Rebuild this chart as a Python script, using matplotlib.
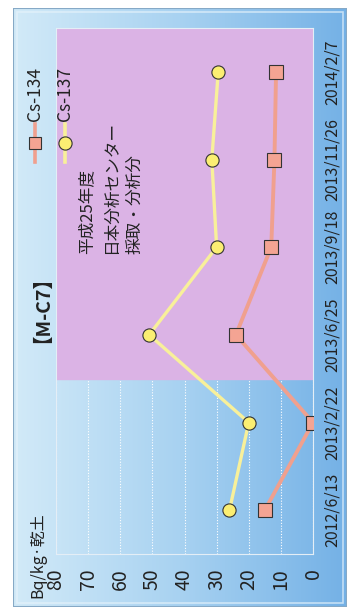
import numpy as np
import matplotlib
matplotlib.use('Agg')
import matplotlib.pyplot as plt
from matplotlib.colors import LinearSegmentedColormap
from matplotlib.lines import Line2D
from matplotlib.patches import Rectangle

plt.rcParams['font.family'] = ['Noto Sans CJK JP', 'DejaVu Sans']

# data (chart is drawn rotated 90 degrees, as in the scanned original)
dates = ['2012/6/13', '2013/2/22', '2013/6/25', '2013/9/18', '2013/11/26', '2014/2/7']
cs134 = [15, 0, 24, 13, 12, 11.5]
cs137 = [26, 20, 51, 30, 31.5, 29.5]
value_ticks = [0, 10, 20, 30, 40, 50, 60, 70, 80]
fy25_start = 2  # first sample of FY H25 (pink band)

W, H = 355, 610
fig = plt.figure(figsize=(W / 100, H / 100), dpi=100)

# blue framed background with gradient
bg = fig.add_axes([13 / W, 1 - 607 / H, 334 / W, 599 / H])
bg.axis('off')
cmap = LinearSegmentedColormap.from_list('bg', ['#d2eaf8', '#a8d2f1', '#74b1e6'])
grad = np.linspace(0, 1, 256).reshape(1, -1)
bg.imshow(grad, cmap=cmap, aspect='auto', extent=[0, 1, 0, 1])
bg.set_xlim(0, 1)
bg.set_ylim(0, 1)
bg.add_patch(Rectangle((0.012, 0.007), 0.976, 0.986, fill=False, ec='#e6f3fb',
                       lw=1.2, alpha=0.7, transform=bg.transAxes))
bg.add_patch(Rectangle((0, 0), 1, 1, fill=False, ec='#86a9c6', lw=1.5,
                       transform=bg.transAxes))

ax = fig.add_axes([56 / W, 1 - 554 / H, 257 / W, 526 / H])
ax.patch.set_alpha(0)
pos = np.arange(len(dates))

ax.axhspan(fy25_start - 0.5, len(dates) - 0.5, color='#dbb3e5', zorder=1)
ax.set_axisbelow(True)
ax.xaxis.grid(True, color='white', linestyle=(0, (1, 1.5)), lw=0.8)

ax.plot(cs134, pos, color='#f0a08e', lw=2.8, marker='s', ms=9.5,
        mfc='#f4a493', mec='#333333', mew=0.8, zorder=3)
ax.plot(cs137, pos, color='#f8f09a', lw=2.4, marker='o', ms=9.5,
        mfc='#fbee72', mec='#333333', mew=0.8, zorder=4)

ax.set_xlim(80, 0)
ax.set_ylim(-0.5, len(dates) - 0.5)
ax.set_xticks(value_ticks)
ax.set_xticklabels([str(v) for v in value_ticks], rotation=90, fontsize=14,
                   color='#222222')
ax.tick_params(axis='x', length=0, pad=10)
ax.yaxis.tick_right()
ax.set_yticks(pos)
ax.set_yticklabels(dates, rotation=90, va='center', fontsize=11.5,
                   color='#222222')
ax.tick_params(axis='y', length=0, pad=8)
for s in ax.spines.values():
    s.set_color('#e4eef6')
    s.set_linewidth(0.8)

# unit, title and note
fig.text(38 / W, 1 - 598 / H, 'Bq/kg·乾土', rotation=90, ha='center',
         va='bottom', fontsize=11.5, color='#222222')
fig.text(33 / W, 1 - 300 / H, '【M-C7】', rotation=90, ha='center',
         va='center', fontsize=14, fontweight='bold', color='#222222')
fig.text(111 / W, 1 - 254 / H, '平成25年度\n日本分析センター\n採取・分析分',
         rotation=90, ha='center', va='bottom', fontsize=12,
         linespacing=1.55, color='#222222', multialignment='left')

# legend drawn by hand (rotated)
for xc, name, kw in [(35, 'Cs-134', dict(color='#f0a08e', marker='s', ms=9,
                                            mfc='#f4a493')),
                     (65, 'Cs-137', dict(color='#f8f09a', marker='o', ms=9.5,
                                            mfc='#fbee72'))]:
    x = xc / W
    fig.add_artist(Line2D([x, x], [1 - 162 / H, 1 - 124 / H], lw=2.6,
                          color=kw['color'], transform=fig.transFigure))
    fig.add_artist(Line2D([x], [1 - 143 / H], marker=kw['marker'], ms=kw['ms'],
                          mfc=kw['mfc'], mec='#333333', mew=0.8, ls='none',
                          transform=fig.transFigure))
    fig.text(x, 1 - 121 / H, name, rotation=90, ha='center', va='bottom',
             fontsize=12.5, color='#222222')

fig.savefig('out.png', dpi=100)
